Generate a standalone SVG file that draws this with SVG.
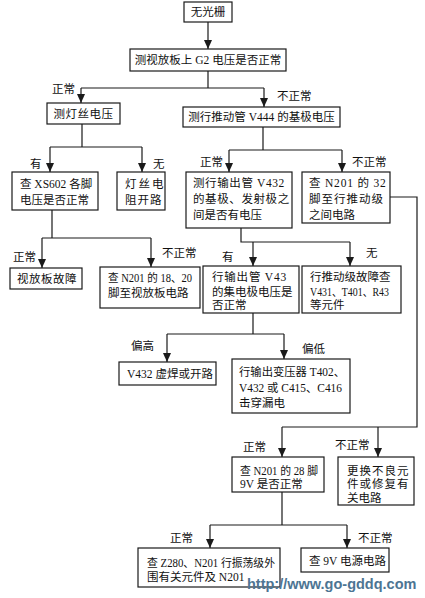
<svg xmlns="http://www.w3.org/2000/svg" width="425" height="598" viewBox="0 0 425 598">
<style>
.box{fill:#fff;stroke:#1a1a1a;stroke-width:1.2}
.ln{fill:none;stroke:#1a1a1a;stroke-width:1.2}
text{font-family:"Liberation Serif","Noto Sans CJK SC",serif;font-size:11.5px;fill:#111}
.c{text-anchor:middle}
.wm{font-family:"Liberation Sans",Arial,sans-serif;font-weight:bold;font-size:14.5px;fill:#4d7593}
</style>
<defs>
<marker id="a" markerUnits="userSpaceOnUse" markerWidth="9" markerHeight="8" refX="9" refY="4" orient="auto" viewBox="0 0 9 8">
<path d="M0,0 L9,4 L0,8 z" fill="#1a1a1a"/>
</marker>
</defs>
<rect width="425" height="598" fill="#fff"/>
<g id="connectors">
<path class="ln" d="M208,22 V49" marker-end="url(#a)"/>
<path class="ln" d="M208,71 V88 M81,88 H264"/>
<path class="ln" d="M81,88 V103" marker-end="url(#a)"/>
<path class="ln" d="M264,88 V107" marker-end="url(#a)"/>
<path class="ln" d="M82,124 V147 M50,147 H142"/>
<path class="ln" d="M50,147 V172" marker-end="url(#a)"/>
<path class="ln" d="M142,147 V172" marker-end="url(#a)"/>
<path class="ln" d="M263,127 V150 M229,150 H342"/>
<path class="ln" d="M229,150 V172" marker-end="url(#a)"/>
<path class="ln" d="M342,150 V172" marker-end="url(#a)"/>
<path class="ln" d="M52,210 V238 M42,238 H151"/>
<path class="ln" d="M42,238 V268" marker-end="url(#a)"/>
<path class="ln" d="M151,238 V267" marker-end="url(#a)"/>
<path class="ln" d="M241,228 V242 H350"/>
<path class="ln" d="M253,242 V266" marker-end="url(#a)"/>
<path class="ln" d="M350,242 V266" marker-end="url(#a)"/>
<path class="ln" d="M253,313 V334 M167,334 H284"/>
<path class="ln" d="M167,334 V362" marker-end="url(#a)"/>
<path class="ln" d="M284,334 V359" marker-end="url(#a)"/>
<path class="ln" d="M390,197 H417 V427 H282"/>
<path class="ln" d="M282,427 V457" marker-end="url(#a)"/>
<path class="ln" d="M378,427 V457" marker-end="url(#a)"/>
<path class="ln" d="M282,492 V525 M210,525 H347"/>
<path class="ln" d="M210,525 V548" marker-end="url(#a)"/>
<path class="ln" d="M347,525 V548" marker-end="url(#a)"/>
</g>
<g id="labels">
<text x="52" y="93">正常</text>
<text x="277" y="100">不正常</text>
<text x="30" y="168">有</text>
<text x="153" y="168">无</text>
<text x="200" y="166">正常</text>
<text x="352" y="166">不正常</text>
<text x="13" y="261">正常</text>
<text x="162" y="257">不正常</text>
<text x="222" y="261">有</text>
<text x="366" y="257">无</text>
<text x="131" y="350">偏高</text>
<text x="302" y="353">偏低</text>
<text x="243" y="451">正常</text>
<text x="335" y="449">不正常</text>
<text x="170" y="542">正常</text>
<text x="358" y="542">不正常</text>
</g>
<g id="n1"><rect class="box" x="184" y="2" width="48" height="20"/><text class="c" x="208" y="16">无光栅</text></g>
<g id="n2"><rect class="box" x="130" y="49" width="156" height="22"/><text class="c" x="208" y="64">测视放板上 G2 电压是否正常</text></g>
<g id="n3"><rect class="box" x="47" y="103" width="73" height="21"/><text class="c" x="83.5" y="118" letter-spacing="0.5">测灯丝电压</text></g>
<g id="n4"><rect class="box" x="183" y="107" width="157" height="20"/><text class="c" x="261.5" y="121">测行推动管 V444 的基极电压</text></g>
<g id="n5"><rect class="box" x="12" y="172" width="86" height="38"/><text x="20" y="188">查 XS602 各脚</text><text x="20" y="204">电压是否正常</text></g>
<g id="n6"><rect class="box" x="117" y="172" width="48" height="38"/><text x="125" y="188" letter-spacing="2">灯丝电</text><text x="125" y="204" letter-spacing="1">阻开路</text></g>
<g id="n7"><rect class="box" x="186" y="172" width="106" height="56"/><text x="193" y="187" letter-spacing="0.6">测行输出管 V432</text><text x="193" y="203" letter-spacing="0.6">的基极、发射极之</text><text x="193" y="219">间是否有电压</text></g>
<g id="n8"><rect class="box" x="302" y="172" width="88" height="51"/><text x="309" y="187" letter-spacing="0.8">查 N201 的 32</text><text x="309" y="203" letter-spacing="1">脚至行推动级</text><text x="309" y="219">之间电路</text></g>
<g id="n9"><rect class="box" x="10" y="268" width="72" height="21"/><text x="17" y="283" letter-spacing="0.5">视放板故障</text></g>
<g id="n10"><rect class="box" x="100" y="267" width="100" height="41"/><text x="108" y="282" textLength="84" lengthAdjust="spacingAndGlyphs">查 N201 的 18、20</text><text x="108" y="297">脚至视放板电路</text></g>
<g id="n11"><rect class="box" x="203" y="266" width="96" height="47"/><text x="212" y="281" letter-spacing="0.8">行输出管 V43</text><text x="212" y="296">的集电极电压是</text><text x="212" y="309">否正常</text></g>
<g id="n12"><rect class="box" x="302" y="266" width="99" height="47"/><text x="310" y="281">行推动级故障查</text><text x="310" y="296" textLength="79" lengthAdjust="spacingAndGlyphs">V431、T401、R43</text><text x="310" y="309">等元件</text></g>
<g id="n13"><rect class="box" x="119" y="362" width="97" height="23"/><text x="127" y="378">V432 虚焊或开路</text></g>
<g id="n14"><rect class="box" x="232" y="359" width="118" height="54"/><text x="239" y="376" textLength="106" lengthAdjust="spacingAndGlyphs">行输出变压器 T402、</text><text x="239" y="392" textLength="103" lengthAdjust="spacingAndGlyphs">V432 或 C415、C416</text><text x="239" y="407">击穿漏电</text></g>
<g id="n15"><rect class="box" x="232" y="457" width="92" height="35"/><text x="240" y="475" textLength="78" lengthAdjust="spacingAndGlyphs">查 N201 的 28 脚</text><text x="240" y="488">9V 是否正常</text></g>
<g id="n16"><rect class="box" x="338" y="457" width="76" height="48"/><text x="347" y="475" letter-spacing="1">更换不良元</text><text x="347" y="488" letter-spacing="1">件或修复有</text><text x="347" y="502">关电路</text></g>
<g id="n17"><rect class="box" x="138" y="548" width="142" height="39"/><text x="147" y="567" textLength="128" lengthAdjust="spacingAndGlyphs">查 Z280、N201 行振荡级外</text><text x="147" y="581">围有关元件及 N201</text></g>
<g id="n18"><rect class="box" x="301" y="548" width="88" height="24"/><text x="309" y="565">查 9V 电源电路</text></g>
<text class="wm" x="247" y="589">http://www.go-gddq.com</text>
</svg>
